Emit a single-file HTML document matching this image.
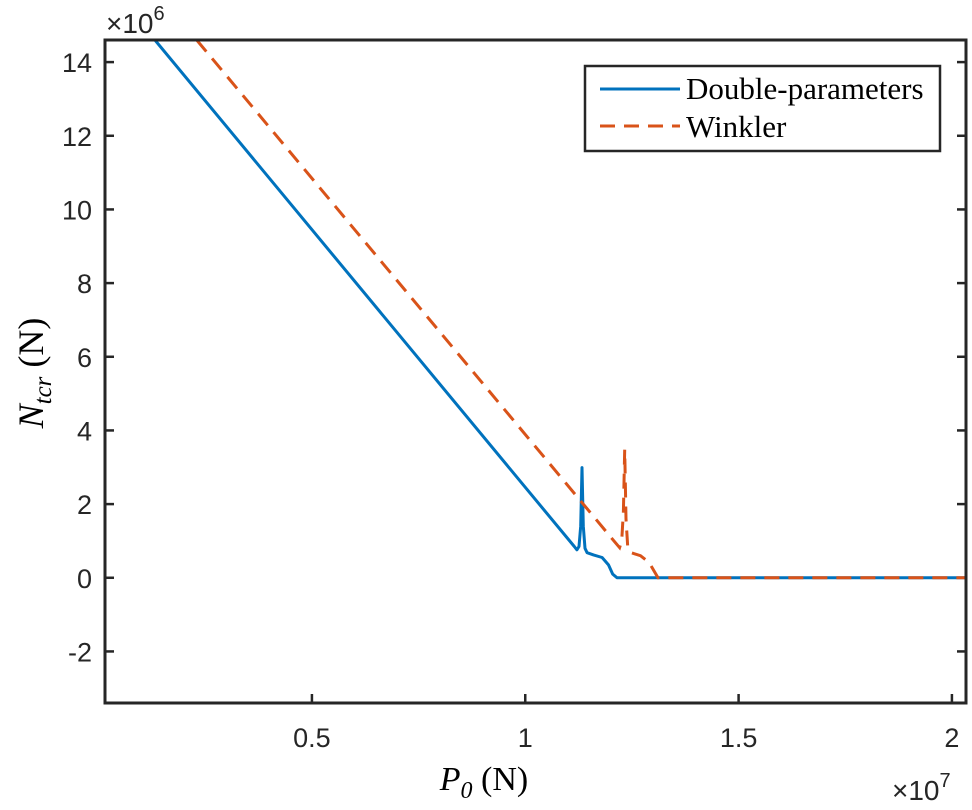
<!DOCTYPE html>
<html><head><meta charset="utf-8"><style>
body{margin:0;background:#fff;}
svg{display:block;}
text{font-family:"Liberation Sans",Arial,sans-serif;fill:#262626;}
</style></head><body>
<svg id="chart" width="972" height="810">
</svg>
<script>
const xTicks=[0.5,1,1.5,2];
const xTickLabels=["0.5","1","1.5","2"];
const yTicks=[-2,0,2,4,6,8,10,12,14];
const yTickLabels=["-2","0","2","4","6","8","10","12","14"];
const doubleX=[0.132,1.115,1.121,1.126,1.13,1.133,1.136,1.14,1.145,1.16,1.18,1.195,1.205,1.215,2.033];
const doubleY=[14.6,0.85,0.76,0.85,1.4,2.99,1.4,0.8,0.68,0.62,0.55,0.35,0.1,0,0];
const winklerX=[0.23,1.215,1.221,1.226,1.23,1.233,1.236,1.24,1.248,1.27,1.29,1.311,2.033];
const winklerY=[14.6,0.9,0.82,1.0,1.8,3.48,1.6,0.85,0.68,0.6,0.42,0,0];

const L=105,R=966,T=40,B=703,xmin=0.015,xmax=2.033,ymin=-3.4,ymax=14.6;
const sx=v=>L+(v-xmin)/(xmax-xmin)*(R-L);
const sy=v=>B-(v-ymin)/(ymax-ymin)*(B-T);
const svg=document.getElementById('chart');
const NS='http://www.w3.org/2000/svg';
function mk(tag,attrs,parent){const e=document.createElementNS(NS,tag);for(const k in attrs)e.setAttribute(k,attrs[k]);(parent||svg).appendChild(e);return e;}

const clip=mk('clipPath',{id:'pc'});mk('rect',{x:L,y:T,width:R-L,height:B-T},clip);

xTicks.forEach((v,i)=>{
  const t=mk('line',{x1:sx(v),x2:sx(v),y1:B,y2:B-9,stroke:'#262626','stroke-width':2.5});
  
  
  const l=mk('text',{x:sx(v),y:B+44,'text-anchor':'middle',style:'font-size:27px'});
  l.textContent=xTickLabels[i];
  
  
});
yTicks.forEach((v,i)=>{
  const t=mk('line',{x1:L,x2:L+9,y1:sy(v),y2:sy(v),stroke:'#262626','stroke-width':2.5});
  
  
  const t2=mk('line',{x1:R,x2:R-9,y1:sy(v),y2:sy(v),stroke:'#262626','stroke-width':2.5});
  
  
  const l=mk('text',{x:L-13,y:sy(v)+10,'text-anchor':'end',style:'font-size:27px'});
  l.textContent=yTickLabels[i];
  
  
});
function path(xs,ys){return xs.map((x,i)=>(i?'L':'M')+sx(x).toFixed(1)+','+sy(ys[i]).toFixed(1)).join(' ');}
const p1=mk('path',{d:path(doubleX,doubleY),fill:'none',stroke:'#0072BD','stroke-width':3,'stroke-linejoin':'round','clip-path':'url(#pc)'});


const p2=mk('path',{d:path(winklerX,winklerY),fill:'none',stroke:'#D95319','stroke-width':3,'stroke-dasharray':'15,9','clip-path':'url(#pc)'});


const box=mk('rect',{x:L,y:T,width:R-L,height:B-T,fill:'none',stroke:'#262626','stroke-width':3});


</script>
<svg width="972" height="810" style="position:absolute;left:0;top:0">
  <text x="106" y="33" style="font-size:28px">×10<tspan dy="-13" style="font-size:20px">6</tspan></text>
  <text x="892" y="800" style="font-size:28px">×10<tspan dy="-13" style="font-size:20px">7</tspan></text>
  <text x="484" y="790" text-anchor="middle" style="font-family:'Liberation Serif',serif;font-size:34px;fill:#000"><tspan font-style="italic">P</tspan><tspan font-style="italic" style="font-size:24px" dy="8">0</tspan><tspan dy="-8"> (N)</tspan></text>
  <text transform="translate(43,373) rotate(-90)" text-anchor="middle" style="font-family:'Liberation Serif',serif;font-size:36px;fill:#000"><tspan font-style="italic">N</tspan><tspan font-style="italic" style="font-size:25px" dy="8">tcr</tspan><tspan dy="-8"> (N)</tspan></text>
  <g>
    <rect x="585" y="66" width="355" height="85" fill="#fff" stroke="#262626" stroke-width="2.5"/>
    <line x1="600" y1="89" x2="680" y2="89" stroke="#0072BD" stroke-width="3"/>
    <text x="686" y="99" style="font-family:'Liberation Serif',serif;font-size:31px;fill:#000">Double-parameters</text>
    <line x1="600" y1="126" x2="680" y2="126" stroke="#D95319" stroke-width="3" stroke-dasharray="15,9"/>
    <text x="686" y="137" style="font-family:'Liberation Serif',serif;font-size:31px;fill:#000">Winkler</text>
  </g>
</svg>
</body></html>
